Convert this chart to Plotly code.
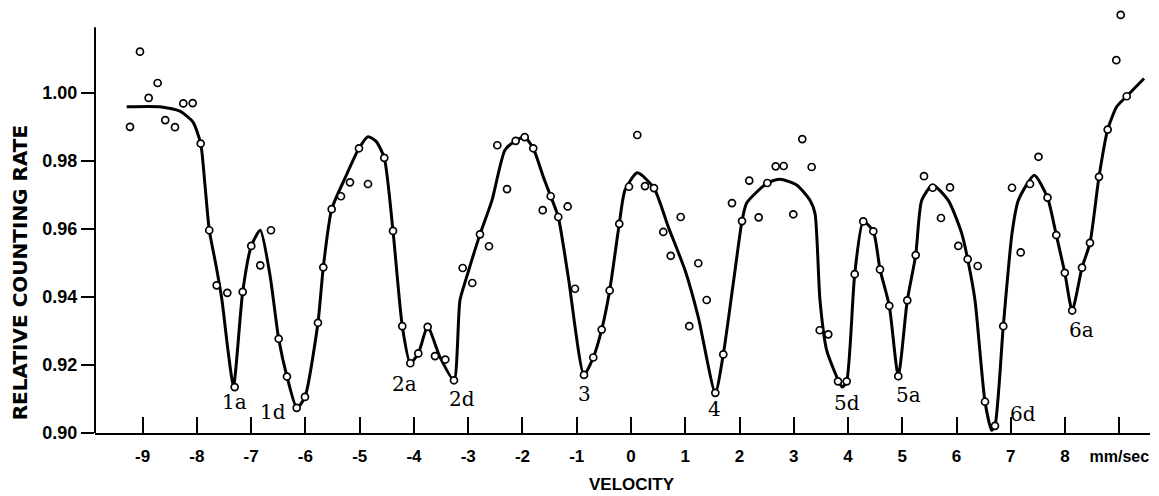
import plotly.graph_objects as go

# Measured points (velocity mm/sec, relative counting rate)
pt_x = [-9.233, -9.049, -8.889, -8.723, -8.583, -8.404, -8.251, -8.078, -7.930, -7.772,
        -7.636, -7.440, -7.304, -7.156, -6.998, -6.832, -6.635, -6.493, -6.340, -6.161,
        -6.008, -5.769, -5.671, -5.516, -5.345, -5.179, -5.013, -4.847, -4.547, -4.386,
        -4.215, -4.067, -3.920, -3.747, -3.612, -3.422, -3.262, -3.102, -2.925, -2.783,
        -2.617, -2.464, -2.285, -2.125, -1.959, -1.801, -1.627, -1.480, -1.340, -1.167,
        -1.032, -0.866, -0.695, -0.540, -0.393, -0.216, -0.037, 0.116, 0.258, 0.424,
        0.595, 0.732, 0.916, 1.074, 1.240, 1.395, 1.554, 1.701, 1.861, 2.046,
        2.180, 2.353, 2.512, 2.667, 2.814, 2.991, 3.157, 3.330, 3.478, 3.636,
        3.815, 3.975, 4.123, 4.281, 4.466, 4.589, 4.760, 4.926, 5.092, 5.247,
        5.400, 5.560, 5.713, 5.879, 6.032, 6.205, 6.390, 6.524, 6.708, 6.861,
        7.022, 7.182, 7.354, 7.510, 7.676, 7.838, 7.995, 8.131, 8.312, 8.459,
        8.625, 8.785, 8.944, 9.025, 9.136]
pt_y = [0.9900, 1.0121, 0.9985, 1.0029, 0.9920, 0.9899, 0.9969, 0.9970, 0.9851, 0.9596,
        0.9434, 0.9412, 0.9135, 0.9415, 0.9550, 0.9493, 0.9596, 0.9277, 0.9166, 0.9074,
        0.9106, 0.9324, 0.9487, 0.9658, 0.9696, 0.9737, 0.9837, 0.9732, 0.9809, 0.9594,
        0.9314, 0.9205, 0.9234, 0.9312, 0.9226, 0.9216, 0.9155, 0.9485, 0.9441, 0.9584,
        0.9549, 0.9846, 0.9717, 0.9859, 0.9870, 0.9837, 0.9655, 0.9696, 0.9635, 0.9666,
        0.9424, 0.9171, 0.9222, 0.9304, 0.9419, 0.9615, 0.9724, 0.9876, 0.9726, 0.9720,
        0.9591, 0.9521, 0.9635, 0.9314, 0.9499, 0.9391, 0.9118, 0.9231, 0.9676, 0.9623,
        0.9742, 0.9634, 0.9735, 0.9784, 0.9785, 0.9643, 0.9864, 0.9782, 0.9302, 0.9290,
        0.9152, 0.9152, 0.9467, 0.9622, 0.9593, 0.9481, 0.9374, 0.9167, 0.9390, 0.9523,
        0.9755, 0.9721, 0.9632, 0.9722, 0.9550, 0.9511, 0.9491, 0.9092, 0.9021, 0.9314,
        0.9721, 0.9531, 0.9732, 0.9812, 0.9692, 0.9582, 0.9471, 0.9360, 0.9486, 0.9559,
        0.9753, 0.9892, 1.0096, 1.0229, 0.9990]

# Hand-drawn fitted curve
curve_x = [-9.294, -8.680, -8.312, -8.072, -7.930, -7.851, -7.772, -7.648, -7.538, -7.427,
           -7.326, -7.156, -6.998, -6.832, -6.653, -6.493, -6.340, -6.156, -6.008, -5.769,
           -5.671, -5.516, -5.271, -5.013, -4.847, -4.700, -4.547, -4.386, -4.215, -4.067,
           -3.920, -3.747, -3.520, -3.262, -3.152, -3.028, -2.783, -2.562, -2.322, -2.125,
           -1.959, -1.801, -1.616, -1.480, -1.340, -1.156, -0.866, -0.695, -0.540, -0.393,
           -0.216, -0.111, 0.116, 0.424, 0.687, 0.995, 1.240, 1.554, 1.701, 1.885,
           2.046, 2.132, 2.512, 2.746, 3.054, 3.299, 3.391, 3.483, 3.607, 3.821,
           3.894, 3.975, 4.123, 4.281, 4.466, 4.589, 4.760, 4.926, 5.092, 5.247,
           5.358, 5.560, 5.848, 6.095, 6.205, 6.340, 6.524, 6.648, 6.708, 6.861,
           7.022, 7.138, 7.433, 7.676, 7.838, 7.995, 8.131, 8.312, 8.459, 8.625,
           8.785, 8.951, 9.136, 9.455]
curve_y = [0.9959, 0.9959, 0.9946, 0.9914, 0.9851, 0.9729, 0.9596, 0.9493, 0.9390, 0.9243,
           0.9138, 0.9415, 0.9550, 0.9596, 0.9464, 0.9277, 0.9166, 0.9073, 0.9106, 0.9324,
           0.9487, 0.9658, 0.9749, 0.9837, 0.9871, 0.9858, 0.9809, 0.9594, 0.9314, 0.9205,
           0.9234, 0.9312, 0.9223, 0.9155, 0.9390, 0.9459, 0.9584, 0.9684, 0.9832, 0.9859,
           0.9870, 0.9837, 0.9753, 0.9696, 0.9635, 0.9459, 0.9171, 0.9222, 0.9304, 0.9419,
           0.9615, 0.9714, 0.9765, 0.9720, 0.9606, 0.9479, 0.9341, 0.9118, 0.9231, 0.9440,
           0.9623, 0.9676, 0.9735, 0.9746, 0.9729, 0.9684, 0.9646, 0.9390, 0.9243, 0.9155,
           0.9135, 0.9152, 0.9467, 0.9622, 0.9593, 0.9481, 0.9374, 0.9167, 0.9390, 0.9523,
           0.9684, 0.9729, 0.9684, 0.9587, 0.9511, 0.9390, 0.9092, 0.9008, 0.9021, 0.9314,
           0.9587, 0.9684, 0.9758, 0.9692, 0.9582, 0.9471, 0.9360, 0.9486, 0.9559, 0.9753,
           0.9892, 0.9959, 0.9990, 1.0042]

# Peak labels
label_text = ["1a", "1d", "2a", "2d", "3", "4", "5d", "5a", "6d", "6a"]
label_x = [-7.298, -6.592, -4.165, -3.120, -0.848, 1.548, 3.975, 5.111, 7.230, 8.306]
label_y = [0.9091, 0.9062, 0.9145, 0.9101, 0.9116, 0.9072, 0.9087, 0.9111, 0.9057, 0.9302]

# Axis ticks
x_ticks = [-9, -8, -7, -6, -5, -4, -3, -2, -1, 0, 1, 2, 3, 4, 5, 6, 7, 8, 9]
x_ticktext = ["-9", "-8", "-7", "-6", "-5", "-4", "-3", "-2", "-1", "0", "1", "2", "3",
              "4", "5", "6", "7", "8", "<span style='font-size:16px'>mm/sec</span>"]
y_ticks = [0.90, 0.92, 0.94, 0.96, 0.98, 1.00]
y_ticktext = ["0.90", "0.92", "0.94", "0.96", "0.98", "1.00"]
y_axis_top = 1.0193  # top end of the drawn vertical axis

fig = go.Figure()
fig.add_trace(go.Scatter(x=curve_x, y=curve_y, mode="lines",
                         line=dict(color="black", width=3, shape="spline", smoothing=0.6),
                         hoverinfo="skip"))
fig.add_trace(go.Scatter(x=pt_x, y=pt_y, mode="markers", cliponaxis=False,
                         marker=dict(symbol="circle", size=7, color="white",
                                     line=dict(color="black", width=1.7))))

# vertical axis spine (stops below the top of the plotting area, as in the original)
fig.add_shape(type="line", xref="paper", yref="y", x0=0, x1=0, y0=0.90, y1=y_axis_top,
              line=dict(color="black", width=2))

for t, x, y in zip(label_text, label_x, label_y):
    fig.add_annotation(x=x, y=y, text=t, showarrow=False,
                       font=dict(family="DejaVu Serif", size=20, color="black"))

fig.add_annotation(xref="paper", yref="paper", x=-0.0711, y=0.372, text="<b>RELATIVE COUNTING RATE</b>",
                   textangle=-90, showarrow=False, xanchor="center", yanchor="middle",
                   font=dict(family="DejaVu Sans", size=20, color="black"))
fig.add_annotation(xref="paper", yref="paper", x=0.509, y=-0.120, text="<b>VELOCITY</b>",
                   showarrow=False, xanchor="center", yanchor="middle",
                   font=dict(family="Liberation Sans", size=17, color="black"))

fig.update_layout(
    width=1159, height=496,
    margin=dict(l=95, r=9, t=1, b=63),
    paper_bgcolor="white", plot_bgcolor="white",
    showlegend=False,
    xaxis=dict(range=[-9.878, 9.565], tickvals=x_ticks, ticktext=x_ticktext,
               ticks="inside", ticklen=16, tickwidth=1.5, tickcolor="black",
               showline=True, linecolor="black", linewidth=2, showgrid=False, zeroline=False,
               ticklabelstandoff=7,
               tickfont=dict(family="Liberation Sans", size=17, color="black", weight="bold")),
    yaxis=dict(range=[0.90, 1.027], tickvals=y_ticks, ticktext=y_ticktext,
               ticks="outside", ticklen=13, tickwidth=1.5, tickcolor="black",
               showline=False, showgrid=False, zeroline=False,
               tickfont=dict(family="Liberation Sans", size=18, color="black", weight="bold")),
)

fig.write_html("out.html", config={"displayModeBar": False},
               post_script="document.body.style.margin='0px';document.body.style.overflow='hidden';")
